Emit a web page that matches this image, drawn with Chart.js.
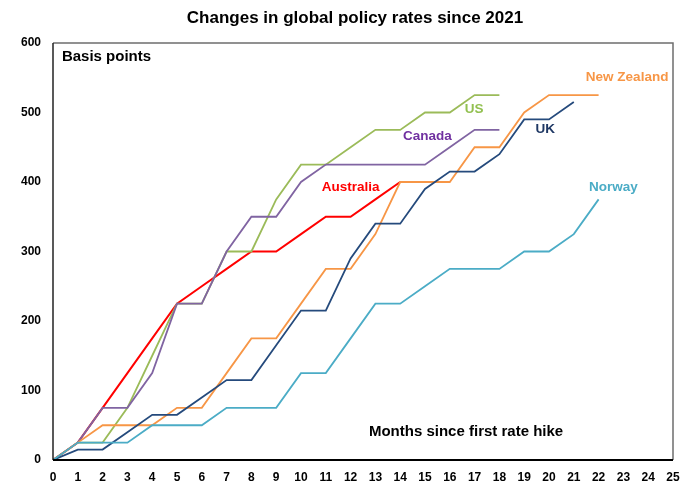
<!DOCTYPE html>
<html>
<head>
<meta charset="utf-8">
<script src="https://cdn.jsdelivr.net/npm/chart.js@4.4.1/dist/chart.umd.min.js"></script>
<style>
  html, body { margin: 0; padding: 0; background: #fff; }
  #wrap { width: 682px; height: 483px; }
</style>
</head>
<body>
<div id="wrap"><canvas id="chart" width="682" height="483"></canvas></div>
<script>
// months since first rate hike
const months = [0, 1, 2, 3, 4, 5, 6, 7, 8, 9, 10, 11, 12, 13, 14, 15, 16, 17, 18, 19, 20, 21, 22];

// cumulative hikes, basis points
const australia = [0, 25, 75, 125, 175, 225, 250, 275, 300, 300, 325, 350, 350, 375, 400];
const us = [0, 25, 25, 75, 150, 225, 225, 300, 300, 375, 425, 425, 450, 475, 475, 500, 500, 525, 525];
const canada = [0, 25, 75, 75, 125, 225, 225, 300, 350, 350, 400, 425, 425, 425, 425, 425, 450, 475, 475];
const newZealand = [0, 25, 50, 50, 50, 75, 75, 125, 175, 175, 225, 275, 275, 325, 400, 400, 400, 450, 450, 500, 525, 525, 525];
const uk = [0, 15, 15, 40, 65, 65, 90, 115, 115, 165, 215, 215, 290, 340, 340, 390, 415, 415, 440, 490, 490, 515];
const norway = [0, 25, 25, 25, 50, 50, 50, 75, 75, 75, 125, 125, 175, 225, 225, 250, 275, 275, 275, 300, 300, 325, 375];

const xTicks = [0, 1, 2, 3, 4, 5, 6, 7, 8, 9, 10, 11, 12, 13, 14, 15, 16, 17, 18, 19, 20, 21, 22, 23, 24, 25];
const yTicks = [0, 100, 200, 300, 400, 500, 600];

const FONT = "'Liberation Sans', Arial, sans-serif";

const toPoints = values => values.map((v, i) => ({ x: months[i], y: v }));

const series = [
  { label: "Norway", data: norway, color: "#4BACC6", width: 1.8 },
  { label: "UK", data: uk, color: "#254A7C", width: 1.8 },
  { label: "New Zealand", data: newZealand, color: "#F79646", width: 1.8 },
  { label: "Canada", data: canada, color: "#8064A2", width: 1.8 },
  { label: "US", data: us, color: "#9BBB59", width: 1.8 },
  { label: "Australia", data: australia, color: "#FF0000", width: 2 }
];

// text labels placed in data coordinates
const notes = [
  { text: "Australia", x: 12.0, y: 393, color: "#FF0000", size: 13.5, align: "center" },
  { text: "Canada", x: 15.1, y: 466, color: "#7030A0", size: 13.5, align: "center" },
  { text: "US", x: 16.98, y: 504, color: "#92C050", size: 13.5, align: "center" },
  { text: "UK", x: 19.85, y: 476, color: "#1F3864", size: 13.5, align: "center" },
  { text: "New Zealand", x: 23.15, y: 550, color: "#F79646", size: 13.5, align: "center" },
  { text: "Norway", x: 22.6, y: 393, color: "#4BACC6", size: 13.5, align: "center" },
  { text: "Basis points", x: 0.36, y: 580, color: "#000", size: 15, align: "left" },
  { text: "Months since first rate hike", x: 12.74, y: 40, color: "#000", size: 15, align: "left" }
];

const decorations = {
  id: "decorations",
  afterDatasetsDraw(chart) {
    const { ctx, chartArea: a, scales } = chart;
    ctx.save();
    // frame
    ctx.strokeStyle = "#6E6E6E";
    ctx.lineWidth = 1.5;
    ctx.beginPath();
    ctx.moveTo(a.left, a.top);
    ctx.lineTo(a.right, a.top);
    ctx.lineTo(a.right, a.bottom);
    ctx.stroke();
    ctx.strokeStyle = "#222";
    ctx.beginPath();
    ctx.moveTo(a.left, a.bottom);
    ctx.lineTo(a.left, a.top);
    ctx.stroke();
    ctx.strokeStyle = "#000";
    ctx.lineWidth = 2;
    ctx.beginPath();
    ctx.moveTo(a.left, a.bottom);
    ctx.lineTo(a.right, a.bottom);
    ctx.stroke();

    // title
    ctx.fillStyle = "#000";
    ctx.font = "bold 17px " + FONT;
    ctx.textAlign = "center";
    ctx.textBaseline = "middle";
    ctx.fillText("Changes in global policy rates since 2021", 355, 18);

    notes.forEach(n => {
      ctx.font = "bold " + n.size + "px " + FONT;
      ctx.fillStyle = n.color;
      ctx.textAlign = n.align;
      ctx.fillText(n.text, scales.x.getPixelForValue(n.x), scales.y.getPixelForValue(n.y));
    });
    ctx.restore();
  }
};

new Chart(document.getElementById("chart"), {
  type: "line",
  data: {
    datasets: series.map(s => ({
      label: s.label,
      data: toPoints(s.data),
      borderColor: s.color,
      backgroundColor: s.color,
      borderWidth: s.width,
      pointRadius: 0,
      tension: 0,
      fill: false
    }))
  },
  options: {
    responsive: false,
    animation: false,
    layout: { padding: { left: 0, top: 43, right: 0, bottom: 0 } },
    plugins: {
      legend: { display: false },
      tooltip: { enabled: false }
    },
    scales: {
      x: {
        type: "linear",
        min: 0,
        max: 25,
        afterBuildTicks: axis => {
          axis.ticks = xTicks.map(v => ({ value: v }));
        },
        afterFit: axis => {
          axis.height = 23;
          axis.paddingRight = 9;
        },
        grid: { display: false, drawTicks: false },
        border: { display: false },
        ticks: {
          padding: 10,
          maxRotation: 0,
          autoSkip: false,
          color: "#000",
          font: { family: FONT, size: 12, weight: "bold" }
        }
      },
      y: {
        min: 0,
        max: 600,
        afterBuildTicks: axis => {
          axis.ticks = yTicks.map(v => ({ value: v }));
        },
        afterFit: axis => {
          axis.width = 53;
        },
        grid: { display: false, drawTicks: false },
        border: { display: false },
        ticks: {
          padding: 12,
          color: "#000",
          font: { family: FONT, size: 12, weight: "bold" }
        }
      }
    }
  },
  plugins: [decorations]
});
</script>
</body>
</html>
